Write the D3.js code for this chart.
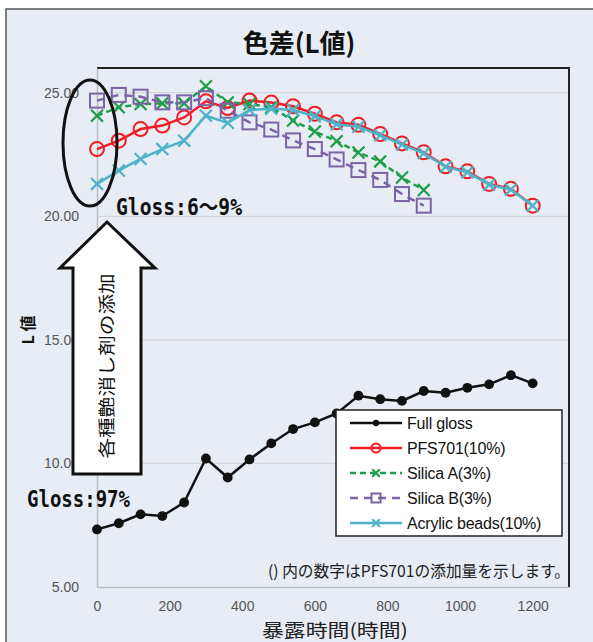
<!DOCTYPE html>
<html>
<head>
<meta charset="utf-8">
<script src="https://cdn.jsdelivr.net/npm/d3@7"></script>
<style>
body { margin: 0; background: #fff; }
text { font-family: "Liberation Sans", Arial, sans-serif; }
.jp { font-family: "Noto Sans CJK JP", sans-serif; }
.mono { font-family: "DejaVu Sans Mono", "Noto Sans CJK JP", monospace; font-weight: bold; }
</style>
</head>
<body>
<div id="chart"></div>
<script>
// heures d'exposition
const hours = [0, 60, 120, 180, 240, 300, 360, 420, 480, 540, 600, 660, 720, 780, 840, 900, 960, 1020, 1080, 1140, 1200];

// valeurs L
const fullGloss = [7.33, 7.58, 7.94, 7.87, 8.42, 10.20, 9.43, 10.16, 10.81, 11.39, 11.66, 12.02, 12.74, 12.60, 12.53, 12.93, 12.86, 13.06, 13.20, 13.57, 13.24];
const pfs701 = [22.72, 23.06, 23.53, 23.67, 24.00, 24.65, 24.38, 24.68, 24.60, 24.45, 24.15, 23.80, 23.70, 23.33, 22.95, 22.59, 22.02, 21.82, 21.31, 21.11, 20.43];
const silicaA = [24.07, 24.41, 24.54, 24.57, 24.57, 25.26, 24.61, 24.54, 24.41, 23.87, 23.43, 23.04, 22.58, 22.22, 21.57, 21.06];
const silicaB = [24.68, 24.91, 24.84, 24.61, 24.61, 24.78, 24.27, 23.80, 23.51, 23.07, 22.72, 22.30, 21.87, 21.47, 20.90, 20.43];
const acrylic = [21.31, 21.85, 22.32, 22.72, 23.06, 24.07, 23.78, 24.30, 24.35, 24.30, 24.05, 23.72, 23.62, 23.28, 22.90, 22.55, 22.00, 21.78, 21.28, 21.08, 20.43];

const seriesNames = ["Full gloss", "PFS701(10%)", "Silica A(3%)", "Silica B(3%)", "Acrylic beads(10%)"];
const xTicks = [0, 200, 400, 600, 800, 1000, 1200];
const yTicks = [5, 10, 15, 20, 25];

const series = [
    { name: seriesNames[0], values: fullGloss, color: "#111", marker: "dot", dash: null },
    { name: seriesNames[1], values: pfs701, color: "#f21c24", marker: "circle", dash: null },
    { name: seriesNames[2], values: silicaA, color: "#1f9e4a", marker: "x", dash: "6,4" },
    { name: seriesNames[3], values: silicaB, color: "#7b64a6", marker: "square", dash: "8,6" },
    { name: seriesNames[4], values: acrylic, color: "#4eb3c8", marker: "x", dash: null }
];

const width = 593, height = 642;
const svg = d3.select("#chart").append("svg")
    .attr("width", width)
    .attr("height", height);

// fond du graphique
svg.append("rect")
    .attr("x", 6).attr("y", 9)
    .attr("width", 610).attr("height", 660)
    .attr("fill", "#e8ecf4")
    .attr("stroke", "#555")
    .attr("stroke-width", 1.5);

const xScale = d3.scaleLinear().domain([0, 1300]).range([97, 569]);
const yScale = d3.scaleLinear().domain([5, 26]).range([587, 68]);

// grille horizontale
svg.append("g").selectAll("line")
    .data(yTicks.slice(1))
    .enter()
    .append("line")
    .attr("x1", xScale(0)).attr("x2", xScale(1300))
    .attr("y1", d => yScale(d)).attr("y2", d => yScale(d))
    .attr("stroke", "#d3d7dd")
    .attr("stroke-width", 1.2);

// cadre haut et droite
svg.append("path")
    .attr("d", `M${xScale(0)},${yScale(26)}H${xScale(1300)}V${yScale(5)}`)
    .attr("fill", "none")
    .attr("stroke", "#222")
    .attr("stroke-width", 2);

// axes
const yAxis = d3.axisLeft(yScale).tickValues(yTicks).tickFormat(d3.format(".2f")).tickSize(0).tickPadding(18);
const gy = svg.append("g").attr("transform", `translate(${xScale(0)},0)`).call(yAxis);
const xAxis = d3.axisBottom(xScale).tickValues(xTicks).tickFormat(d3.format("d")).tickSize(0).tickPadding(14);
const gx = svg.append("g").attr("transform", `translate(0,${yScale(5)})`).call(xAxis);
[gx, gy].forEach(g => {
    g.select(".domain").attr("stroke", "#b9bdc4").attr("stroke-width", 1.5);
    g.selectAll("text").attr("font-size", 14).attr("fill", "#555").style("font-family", "Liberation Sans, Arial, sans-serif");
});

const line = d3.line()
    .x((d, i) => xScale(hours[i]))
    .y(d => yScale(d));

const drawMarker = (g, type, color, s) => {
    if (type === "dot") {
        g.append("circle").attr("r", s * 0.7).attr("fill", color);
    } else if (type === "circle") {
        g.append("circle").attr("r", s).attr("fill", "none").attr("stroke", color).attr("stroke-width", 2);
    } else if (type === "square") {
        g.append("rect").attr("x", -s).attr("y", -s).attr("width", 2 * s).attr("height", 2 * s)
            .attr("fill", "none").attr("stroke", color).attr("stroke-width", 2);
    } else {
        const k = s * 0.85;
        g.append("path").attr("d", `M${-k},${-k}L${k},${k}M${-k},${k}L${k},${-k}`)
            .attr("stroke", color).attr("stroke-width", 2.2);
    }
};

// courbes + marqueurs
series.forEach(serie => {
    const g = svg.append("g");
    g.append("path")
        .datum(serie.values)
        .attr("d", line)
        .attr("fill", "none")
        .attr("stroke", serie.color)
        .attr("stroke-width", 2.5)
        .attr("stroke-dasharray", serie.dash);
    serie.values.forEach((v, i) => {
        const m = g.append("g").attr("transform", `translate(${xScale(hours[i])},${yScale(v)})`);
        drawMarker(m, serie.marker, serie.color, 7);
    });
});

// titre et libellés
svg.append("text").attr("class", "jp")
    .attr("x", 299).attr("y", 53)
    .attr("text-anchor", "middle")
    .attr("font-size", 26).attr("font-weight", "bold")
    .attr("fill", "#111")
    .text("色差(L値)");

svg.append("text").attr("class", "jp")
    .attr("transform", "translate(34,330) rotate(-90)")
    .attr("text-anchor", "middle")
    .attr("font-size", 16).attr("font-weight", "bold")
    .attr("fill", "#111")
    .text("L 値");

svg.append("text").attr("class", "jp")
    .attr("x", 335).attr("y", 637)
    .attr("text-anchor", "middle")
    .attr("font-size", 18)
    .attr("textLength", 146).attr("lengthAdjust", "spacingAndGlyphs")
    .attr("fill", "#222")
    .text("暴露時間(時間)");

svg.append("text").attr("class", "jp")
    .attr("x", 268).attr("y", 577)
    .attr("font-size", 16)
    .attr("textLength", 302).attr("lengthAdjust", "spacingAndGlyphs")
    .attr("fill", "#222")
    .text("() 内の数字はPFS701の添加量を示します。");

// légende
const legend = svg.append("g");
legend.append("rect")
    .attr("x", 336).attr("y", 410)
    .attr("width", 226).attr("height", 126)
    .attr("fill", "#fff")
    .attr("stroke", "#222")
    .attr("stroke-width", 1.5);
series.forEach((serie, i) => {
    const ly = 423 + i * 25;
    legend.append("line")
        .attr("x1", 350).attr("x2", 402)
        .attr("y1", ly).attr("y2", ly)
        .attr("stroke", serie.color)
        .attr("stroke-width", 2.5)
        .attr("stroke-dasharray", serie.dash);
    const m = legend.append("g").attr("transform", `translate(376,${ly})`);
    drawMarker(m, serie.marker, serie.color, 4.5);
    legend.append("text")
        .attr("x", 407).attr("y", ly)
        .attr("dy", "0.35em")
        .attr("font-size", 16)
        .attr("letter-spacing", -0.2)
        .attr("fill", "#111")
        .text(serie.name);
});

// annotations
svg.append("ellipse")
    .attr("cx", 90).attr("cy", 143)
    .attr("rx", 27).attr("ry", 63)
    .attr("fill", "none")
    .attr("stroke", "#111")
    .attr("stroke-width", 3);

svg.append("path")
    .attr("d", "M107,222L155,268H141V474H73V268H60Z")
    .attr("fill", "#fff")
    .attr("stroke", "#111")
    .attr("stroke-width", 3)
    .attr("stroke-linejoin", "miter");

svg.append("text").attr("class", "jp")
    .attr("transform", "translate(107,366) rotate(-90)")
    .attr("text-anchor", "middle")
    .attr("dy", "0.35em")
    .attr("font-size", 17)
    .attr("textLength", 185).attr("lengthAdjust", "spacingAndGlyphs")
    .attr("fill", "#111")
    .text("各種艶消し剤の添加");

svg.append("text").attr("class", "mono")
    .attr("x", 116).attr("y", 215)
    .attr("font-size", 23)
    .attr("textLength", 126).attr("lengthAdjust", "spacingAndGlyphs")
    .attr("fill", "#111")
    .text("Gloss:6～9%");

svg.append("text").attr("class", "mono")
    .attr("x", 27).attr("y", 507)
    .attr("font-size", 23)
    .attr("textLength", 103).attr("lengthAdjust", "spacingAndGlyphs")
    .attr("fill", "#111")
    .text("Gloss:97%");
</script>
</body>
</html>
